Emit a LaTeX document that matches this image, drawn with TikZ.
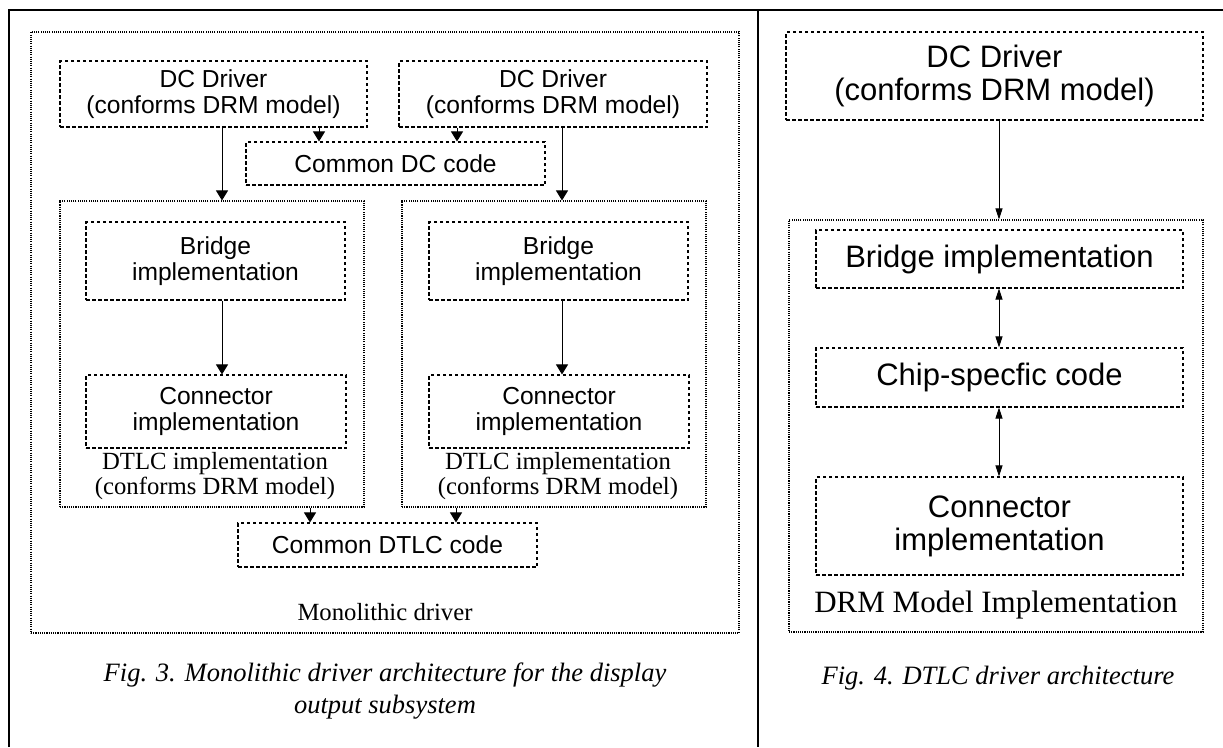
\documentclass[tikz,border=0pt]{standalone}
\usepackage{fontspec}
\setmainfont{Liberation Serif}
\newfontfamily\arialf{Liberation Sans}
\usetikzlibrary{arrows.meta}
\begin{document}
\begin{tikzpicture}[x=1pt,y=-1pt,
  dashbox/.style={draw, line width=1.1pt, dash pattern=on 3.5pt off 2.5pt, inner sep=0pt, align=center},
  dotbox/.style={draw, line width=1.1pt, dash pattern=on 1.1pt off 1.1pt, inner sep=0pt},
  sfsmall/.style={font=\arialf\fontsize{24.6}{26}\selectfont},
  sfbig/.style={font=\arialf\fontsize{31}{33}\selectfont},
  serifsmall/.style={font=\fontsize{24.7}{25.5}\selectfont, align=center, inner sep=0pt},
  serifbig/.style={font=\fontsize{31}{33}\selectfont, align=center, inner sep=0pt},
  captext/.style={font=\itshape\fontsize{26.5}{32}\selectfont, align=center, inner sep=0pt},
  arrA/.style={line width=0.9pt, -{Triangle[length=10pt,width=12pt]}},
  arrB/.style={line width=0.9pt, -{Triangle[length=11pt,width=7pt]}},
  arrD/.style={line width=0.9pt, {Triangle[length=11pt,width=7pt]}-{Triangle[length=11pt,width=7pt]}},
  frame/.style={line width=2pt}
]
\useasboundingbox (0,0) rectangle (1223,747);
% outer frame
\coordinate (fbl) at (9,747);
\coordinate (ftl) at (9,10);
\coordinate (ftr) at (1223,10);
\coordinate (dtop) at (758,10);
\coordinate (dbot) at (758,747);
\draw[frame] (fbl) -- (ftl) -- (ftr);
\draw[frame] (dtop) -- (dbot);

% ---------- Fig. 3 ----------
\node[dotbox, minimum width=708pt, minimum height=601pt] (mono) at (385,332.5) {};
\node[dashbox, sfsmall, minimum width=307pt, minimum height=66pt] (dcl) at (213.5,94) {DC Driver\\(conforms DRM model)};
\node[dashbox, sfsmall, minimum width=308pt, minimum height=66pt] (dcr) at (553,94) {DC Driver\\(conforms DRM model)};
\node[dashbox, sfsmall, minimum width=299pt, minimum height=43pt] (cdc) at (395.5,163.5) {Common DC code};
\node[dotbox, minimum width=304pt, minimum height=306pt] (dtlcl) at (212,354) {};
\node[dotbox, minimum width=304pt, minimum height=306pt] (dtlcr) at (554,354) {};
\node[dashbox, sfsmall, minimum width=259pt, minimum height=78pt] (brl) at (215.5,261) {Bridge\\implementation};
\node[dashbox, sfsmall, minimum width=259pt, minimum height=78pt] (brr) at (558.5,261) {Bridge\\implementation};
\node[dashbox, sfsmall, minimum width=260pt, minimum height=73pt] (conl) at (216,411.5) {Connector\\implementation};
\node[dashbox, sfsmall, minimum width=260pt, minimum height=73pt] (conr) at (559,411.5) {Connector\\implementation};
\node[serifsmall] (dtlcll) at (215,476) {DTLC implementation\\(conforms DRM model)};
\node[serifsmall] (dtlcrl) at (558,476) {DTLC implementation\\(conforms DRM model)};
\node[dashbox, sfsmall, minimum width=299pt, minimum height=44pt] (cdtlc) at (387.5,545) {Common DTLC code};
\node[serifsmall] (monolab) at (385,612) {Monolithic driver};
\node[captext] (cap3) at (385,691) {Fig. 3. Monolithic driver architecture for the display\\output subsystem};

\coordinate (xa) at (319,0);
\coordinate (xb) at (457,0);
\coordinate (xc) at (222,0);
\coordinate (xd) at (562,0);
\coordinate (xe) at (310,0);
\coordinate (xf) at (456,0);
\draw[arrA] (dcl.south -| xa) -- (cdc.north -| xa);
\draw[arrA] (dcr.south -| xb) -- (cdc.north -| xb);
\draw[arrA] (dcl.south -| xc) -- (dtlcl.north -| xc);
\draw[arrA] (dcr.south -| xd) -- (dtlcr.north -| xd);
\draw[arrA] (brl.south -| xc) -- (conl.north -| xc);
\draw[arrA] (brr.south -| xd) -- (conr.north -| xd);
\draw[arrA] (dtlcl.south -| xe) -- (cdtlc.north -| xe);
\draw[arrA] (dtlcr.south -| xf) -- (cdtlc.north -| xf);

% ---------- Fig. 4 ----------
\node[dashbox, sfbig, minimum width=417pt, minimum height=88pt] (dc4) at (994.5,76) {DC Driver\\(conforms DRM model)};
\node[dotbox, minimum width=414pt, minimum height=412pt] (drm) at (996,426) {};
\node[dashbox, sfbig, minimum width=367pt, minimum height=58pt] (br4) at (999.5,259) {Bridge implementation};
\node[dashbox, sfbig, minimum width=367pt, minimum height=59pt] (chip) at (999.5,377.5) {Chip-specfic code};
\node[dashbox, sfbig, minimum width=367pt, minimum height=98pt] (con4) at (999.5,526) {Connector\\implementation};
\node[serifbig] (drmlab) at (996,605) {DRM Model Implementation};
\node[captext] (cap4) at (998,678) {Fig. 4. DTLC driver architecture};

\coordinate (xg) at (999,0);
\draw[arrB] (dc4.south -| xg) -- (drm.north -| xg);
\draw[arrD] (br4.south -| xg) -- (chip.north -| xg);
\draw[arrD] (chip.south -| xg) -- (con4.north -| xg);
\end{tikzpicture}
\end{document}
